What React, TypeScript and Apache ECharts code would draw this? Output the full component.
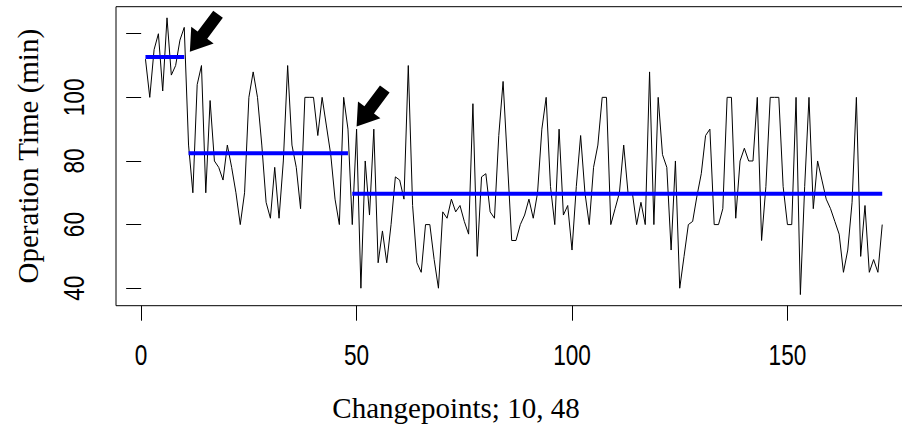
import React, { useEffect, useRef } from "react";
import * as echarts from "echarts";

// Operation time (min) for each case, x = 1..172
const operationTimes: number[] = [
  112, 100, 115, 120, 102, 125, 107, 110, 118, 122,
  85, 70, 104, 110, 70, 99, 80, 78, 74, 85,
  78, 70, 60, 70, 100, 108, 100, 85, 67, 62,
  78, 62, 80, 110, 85, 78, 65, 100, 100, 100,
  88, 100, 91, 82, 68, 60, 100, 90,
  60, 90, 40, 80, 63, 90, 48, 58, 48, 60,
  75, 74, 68, 110, 66, 48, 45, 60, 60, 49,
  40, 64, 62, 68, 64, 66, 61, 57, 98, 50,
  75, 76, 64, 62, 88, 105, 80, 55, 55, 60,
  63, 68, 62, 70, 90, 100, 72, 60, 90, 63,
  66, 52, 72, 88, 70, 60, 78, 85, 100, 100,
  60, 65, 70, 85, 70, 70, 60, 67, 60, 108,
  60, 100, 82, 78, 52, 80, 40, 50, 60, 61,
  69, 76, 88, 90, 60, 60, 65, 100, 100, 62,
  80, 84, 80, 80, 100, 55, 72, 100, 100, 100,
  72, 60, 60, 100, 38, 72, 100, 65, 80, 74,
  68, 65, 61, 57, 45, 52, 67, 100, 50, 66,
  45, 49, 45, 60,
];

const changepoints: number[] = [10, 48];
const segmentMeans: number[] = [112.7, 82.4, 69.7];

const xTicks: number[] = [0, 50, 100, 150];
const yTicks: number[] = [40, 60, 80, 100, 120];
const yTickLabels: number[] = [40, 60, 80, 100];

// Arrow tips (data coordinates) pointing at the changepoints
const arrowTips: number[][] = [
  [11.3, 114.3],
  [50.0, 90.8],
];

const xTitle = "Changepoints; 10, 48";
const yTitle = "Operation Time (min)";

const SANS = "'Liberation Sans', Arial, sans-serif";
const SERIF = "'Liberation Serif', 'Times New Roman', serif";

// arrow shape relative to its tip (pixels)
const ARROW_SHAPE: number[][] = [
  [0, 0],
  [23.8, -8.4],
  [17.4, -13.2],
  [33, -34],
  [23.4, -41.2],
  [7.8, -20.4],
  [1.4, -25.2],
];

const LABEL_FONT = 29;
const LABEL_NARROW = 0.78;

export default function App() {
  const ref = useRef<HTMLDivElement>(null);

  useEffect(() => {
    const chart = echarts.init(ref.current as HTMLDivElement, null, { renderer: "svg" });
    const lineData = operationTimes.map((v, i) => [i + 1, v]);
    const starts = [1, ...changepoints.map((c) => c + 1)];
    const ends = [...changepoints, operationTimes.length];
    const segSeries = segmentMeans.map((m, k) => ({
      type: "line",
      name: "segment" + (k + 1),
      data: [
        [starts[k], m],
        [ends[k], m],
      ],
      symbol: "none",
      silent: true,
      z: 3,
      lineStyle: { color: "#0000ff", width: 4 },
    }));

    chart.setOption({
      animation: false,
      grid: {
        left: 116,
        top: 6.7,
        width: 795.7,
        height: 299,
        show: true,
        borderColor: "#000",
        borderWidth: 1,
        backgroundColor: "transparent",
        containLabel: false,
        outerBoundsMode: "none",
      },
      xAxis: {
        type: "value",
        min: -5.84,
        max: 178.84,
        axisLine: { show: false },
        splitLine: { show: false },
        axisTick: {
          show: true,
          length: 15,
          customValues: xTicks,
          lineStyle: { color: "#000", width: 1 },
        },
        axisLabel: { show: false },
      },
      yAxis: {
        type: "value",
        min: 34.5,
        max: 128.5,
        axisLine: { show: false },
        splitLine: { show: false },
        axisTick: {
          show: true,
          length: 15,
          customValues: yTicks,
          lineStyle: { color: "#000", width: 1 },
        },
        axisLabel: { show: false },
        name: yTitle,
        nameLocation: "middle",
        nameGap: 74,
        nameRotate: 90,
        nameTextStyle: { fontSize: 29, fontFamily: SERIF, color: "#000" },
      },
      series: [
        {
          type: "line",
          name: "Operation time",
          data: lineData,
          symbol: "none",
          silent: true,
          z: 2,
          lineStyle: { color: "#000", width: 1 },
        },
        ...segSeries,
      ],
    });

    const arrows = arrowTips.map((tip) => {
      const p = chart.convertToPixel({ gridIndex: 0 }, tip) as number[];
      return {
        type: "polygon",
        silent: true,
        z: 10,
        shape: { points: ARROW_SHAPE.map(([dx, dy]) => [p[0] + dx, p[1] + dy]) },
        style: { fill: "#000" },
      };
    });

    const yBottom = (chart.convertToPixel({ gridIndex: 0 }, [0, 34.5]) as number[])[1];
    const xLeft = (chart.convertToPixel({ gridIndex: 0 }, [-5.84, 40]) as number[])[0];

    const xLabels = xTicks.map((t) => {
      const p = chart.convertToPixel({ gridIndex: 0 }, [t, 40]) as number[];
      return {
        type: "text",
        silent: true,
        x: p[0],
        y: yBottom + 49,
        scaleX: LABEL_NARROW,
        style: {
          text: String(t),
          fontSize: LABEL_FONT,
          fontFamily: SANS,
          fill: "#000",
          align: "center",
          verticalAlign: "middle",
        },
      };
    });

    const yLabels = yTickLabels.map((t) => {
      const p = chart.convertToPixel({ gridIndex: 0 }, [0, t]) as number[];
      return {
        type: "text",
        silent: true,
        x: xLeft - 42,
        y: p[1],
        rotation: Math.PI / 2,
        scaleX: LABEL_NARROW,
        style: {
          text: String(t),
          fontSize: LABEL_FONT,
          fontFamily: SANS,
          fill: "#000",
          align: "center",
          verticalAlign: "middle",
        },
      };
    });

    chart.setOption({
      graphic: [
        ...arrows,
        ...xLabels,
        ...yLabels,
        {
          type: "text",
          silent: true,
          x: 456,
          y: 408,
          style: {
            text: xTitle,
            fontSize: 29,
            fontFamily: SERIF,
            fill: "#000",
            align: "center",
            verticalAlign: "middle",
          },
        },
      ],
    });

    return () => chart.dispose();
  }, []);

  return (
    <div
      ref={ref}
      style={{ position: "absolute", left: 0, top: 0, width: 902, height: 427 }}
    />
  );
}
